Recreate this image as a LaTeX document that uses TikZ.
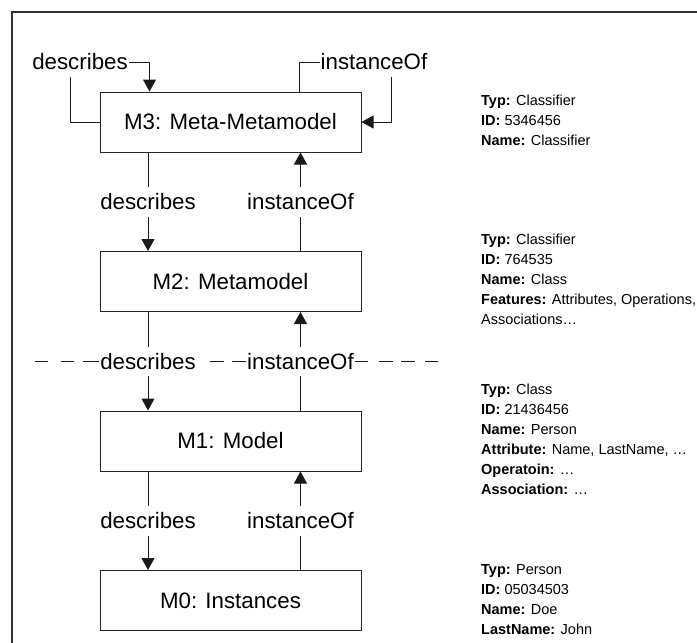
\documentclass[tikz,border=0pt]{standalone}
\usepackage{fontspec}
\setmainfont{Liberation Sans}
\usetikzlibrary{arrows.meta,calc}
\begin{document}
\begin{tikzpicture}[x=1pt,y=-1pt,
  layer/.style={draw=black!85,line width=1pt,minimum width=261pt,minimum height=60pt,inner sep=0pt,font=\fontsize{22.3}{27}\selectfont},
  rel/.style={font=\fontsize{22.3}{27}\selectfont,inner xsep=1pt,inner ysep=0pt,text height=18pt,text depth=3pt,minimum height=29pt,fill=white},
  conn/.style={line width=1pt,draw=black!90},
  tip/.style={conn,-{Triangle[length=12pt,width=13pt]}},
  info/.style={font=\fontsize{14.5}{20}\selectfont,align=left,anchor=north west,inner sep=0pt},
  frame/.style={line width=1.3pt,draw=black!80},
]
\useasboundingbox (0,0) rectangle (697,643);
\draw[frame] (12,643) -- (12,12) -- (697,12);

% layers
\node[layer] (m3) at (230.5,122) {M3: Meta-Metamodel};
\node[layer] (m2) at (230.5,281.5) {M2: Metamodel};
\node[layer] (m1) at (230.5,441) {M1: Model};
\node[layer] (m0) at (230.5,600.5) {M0: Instances};

% relation labels
\node[rel] (dt) at (80,62) {describes};
\node[rel] (it) at (374,62) {instanceOf};
\node[rel] (d1) at (148,202) {describes};
\node[rel] (i1) at (300.5,202) {instanceOf};
\node[rel] (d2) at (148,361.5) {describes};
\node[rel] (i2) at (300.5,361.5) {instanceOf};
\node[rel] (d3) at (148,521) {describes};
\node[rel] (i3) at (300.5,521) {instanceOf};

% self loops on M3
\draw[conn] (m3.west) -| ($(dt.south)+(-10,0)$);
\draw[tip] (dt.east) -| ($(m3.north west)+(50,0)$);
\draw[conn] ($(m3.north west)+(200,0)$) |- (it.west);
\draw[tip] ($(it.south)+(17,0)$) |- (m3.east);

% describes (downwards)
\draw[conn] (d1 |- m3.south) -- (d1.north);
\draw[tip] (d1.south) -- (d1 |- m2.north);
\draw[conn] (d2 |- m2.south) -- (d2.north);
\draw[tip] (d2.south) -- (d2 |- m1.north);
\draw[conn] (d3 |- m1.south) -- (d3.north);
\draw[tip] (d3.south) -- (d3 |- m0.north);

% instanceOf (upwards)
\draw[conn] (i1 |- m2.north) -- (i1.south);
\draw[tip] (i1.north) -- (i1 |- m3.south);
\draw[conn] (i2 |- m1.north) -- (i2.south);
\draw[tip] (i2.north) -- (i2 |- m2.south);
\draw[conn] (i3 |- m0.north) -- (i3.south);
\draw[tip] (i3.north) -- (i3 |- m1.south);

% dashed separator
\coordinate (dl) at (35,361.5);
\coordinate (dr) at (438,361.5);
\draw[conn,dash pattern=on 13pt off 13pt on 13pt off 9pt on 20pt] (dl) -- (d2.west);
\draw[conn,dash pattern=on 14pt off 8pt on 14pt off 30pt] (i2.west) -- (d2.east);
\draw[conn,dash pattern=on 13pt off 10pt on 14pt off 8pt on 14pt off 11pt on 13pt off 10pt] (dr) -- (i2.east);

% info blocks
\node[info] (t3) at (481,95) {\textbf{Typ:} Classifier\\\textbf{ID:} 5346456\\\textbf{Name:} Classifier};
\node[info] (t2) at (481,234) {\textbf{Typ:} Classifier\\\textbf{ID:} 764535\\\textbf{Name:} Class\\\textbf{Features:} Attributes, Operations,\\Associations…};
\node[info] (t1) at (481,384) {\textbf{Typ:} Class\\\textbf{ID:} 21436456\\\textbf{Name:} Person\\\textbf{Attribute:} Name, LastName, …\\\textbf{Operatoin:} …\\\textbf{Association:} …};
\node[info] (t0) at (481,564) {\textbf{Typ:} Person\\\textbf{ID:} 05034503\\\textbf{Name:} Doe\\\textbf{LastName:} John};
\end{tikzpicture}
\end{document}
